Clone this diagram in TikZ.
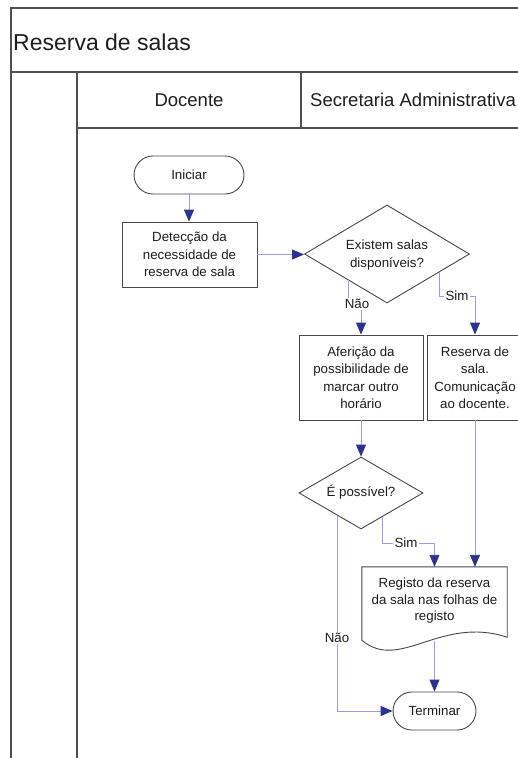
\documentclass[tikz,border=0pt]{standalone}
\usepackage{fontspec}
\setmainfont{Liberation Sans}
\usetikzlibrary{arrows.meta,shapes.geometric,shapes.misc,calc}

\definecolor{frameline}{HTML}{505050}
\definecolor{boxline}{HTML}{484848}
\definecolor{flowline}{HTML}{9C9CEA}
\definecolor{tipblue}{HTML}{2E3192}
\definecolor{inktext}{HTML}{1E1E1E}

\newcommand{\flowfont}{\fontsize{13.3}{17.5}\selectfont}

\begin{document}
\begin{tikzpicture}[x=1pt,y=-1pt,
  frame/.style={draw=frameline,line width=1.3pt},
  box/.style={draw=boxline,line width=0.9pt,rectangle,inner sep=0pt,align=center,text=inktext,font=\flowfont},
  term/.style={draw=boxline,line width=0.9pt,rounded rectangle,inner sep=0pt,text=inktext,font=\flowfont},
  dec/.style={draw=boxline,line width=0.9pt,diamond,inner sep=0pt},
  txt/.style={inner sep=0pt,align=center,text=inktext,font=\flowfont},
  lbl/.style={fill=white,inner sep=1.5pt,text=inktext,font=\flowfont},
  conn/.style={draw=flowline,line width=0.9pt,-{Triangle[length=12pt,width=10pt,color=tipblue]}},
  docline/.style={draw=boxline,line width=0.9pt}
]
\fill[white] (0,0) rectangle (518,758);
\useasboundingbox (0,0) rectangle (518,758);
\clip (0,0) rectangle (518,758);

% pool and lane frame
\draw[frame] (11,758) -- (11,8) -- (518,8);
\draw[frame] (11,72) -- (518,72);
\draw[frame] (77,72) -- (77,758);
\draw[frame] (77,128) -- (518,128);
\draw[frame] (301,72) -- (301,128);

\node[txt,anchor=west,font=\fontsize{23}{27}\selectfont] (title) at (13,42) {Reserva de salas};
\node[txt,font=\fontsize{18.5}{22}\selectfont] (docente) at (189,100) {Docente};
\node[txt,anchor=west,font=\fontsize{18.5}{22}\selectfont] (secretaria) at (310,100) {Secretaria Administrativa};

% process steps
\node[term,minimum width=110pt,minimum height=38pt] (iniciar) at (189,175) {Iniciar};
\node[box,minimum width=135pt,minimum height=65pt] (detec) at (189.5,254.5) {Detecção da\\necessidade de\\reserva de sala};
\node[dec,minimum width=165pt,minimum height=98pt] (exist) at (387,254) {};
\node[txt] (existT) at (387,255) {Existem salas\\disponíveis?};
\node[box,minimum width=124pt,minimum height=85pt] (aferi) at (361,377.5) {Aferição da\\possibilidade de\\marcar outro\\horário};
\node[box,minimum width=96pt,minimum height=85pt] (reserva) at (475,377.5) {Reserva de\\sala.\\Comunicação\\ao docente.};
\node[dec,minimum width=124pt,minimum height=72pt] (epos) at (361,493) {};
\node[txt] (eposT) at (361,492) {É possível?};
\node[inner sep=0pt,minimum width=145pt,minimum height=74pt] (registo) at (434.5,604) {};
\node[txt,font=\fontsize{13.3}{16.5}\selectfont] (registoT) at (434.5,601) {Registo da reserva\\da sala nas folhas de\\registo};
\node[term,minimum width=83pt,minimum height=38pt] (terminar) at (434.5,711) {Terminar};

% document outline with wavy foot
\draw[docline] ($(registo.south west)+(0,-1)$) -- (registo.north west) -- (registo.north east)
  -- ($(registo.south east)+(0,-4)$)
  .. controls ($(registo.south east)+(-67,-26)$) and ($(registo.south west)+(38,31)$)
  .. ($(registo.south west)+(0,-1)$) -- cycle;

% branch points on the decision edges and label spots
\coordinate (existNo) at ($(exist.west)!0.53!(exist.south)$);
\coordinate (existYes) at ($(exist.south)!0.627!(exist.east)$);
\coordinate (eposNo) at ($(epos.west)!0.63!(epos.south)$);
\coordinate (eposYes) at ($(epos.south)!0.34!(epos.east)$);
\coordinate (simApos) at (457,296);
\coordinate (simBpos) at (406,543);

% connectors
\draw[conn] (iniciar.south) -- (iniciar.south |- detec.north);
\draw[conn] (detec.east) -- (detec.east -| exist.west);
\draw[conn] (existNo) -- ++(0,24) -| (aferi.north);
\draw[conn] (existYes) -- (existYes |- simApos) -| (reserva.north);
\draw[conn] (aferi.south) -- (epos.north);
\draw[conn] (eposYes) -- (eposYes |- simBpos) -| (registo.north);
\draw[conn] (reserva.south) -- (reserva.south |- registo.north);
\draw[conn] (eposNo) |- (terminar.west);
\draw[conn] (registo.south) -- (terminar.north);

% connector labels
\node[lbl] (naoA) at (357,304) {Não};
\node[lbl] (simA) at (simApos) {Sim};
\node[lbl] (simB) at (simBpos) {Sim};
\node[lbl] (naoB) at (337,638) {Não};
\end{tikzpicture}
\end{document}
